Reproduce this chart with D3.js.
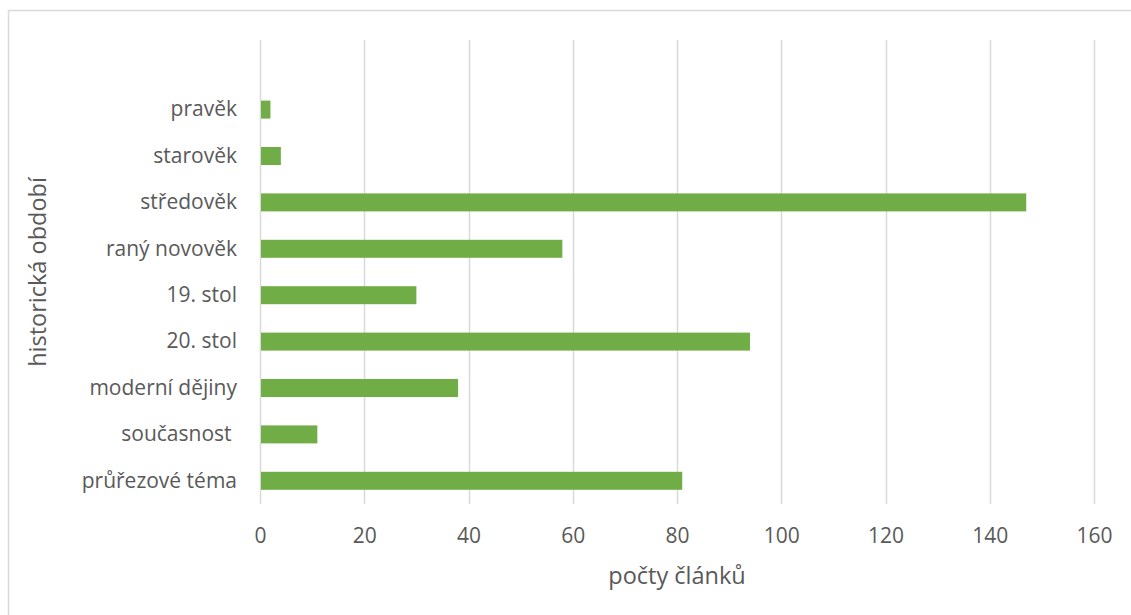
<!DOCTYPE html>
<html>
<head>
<meta charset="utf-8">
<script src="https://cdn.jsdelivr.net/npm/d3@7"></script>
<style>
  html, body { margin: 0; padding: 0; background: #fff; }
  svg { display: block; font-family: "Open Sans", "Noto Sans", sans-serif; }
</style>
</head>
<body>
<svg id="chart" width="1131" height="615"></svg>
<script>
const categories = ["pravěk", "starověk", "středověk", "raný novověk", "19. stol", "20. stol", "moderní dějiny", "současnost ", "průřezové téma"];
const values = [2, 4, 147, 58, 30, 94, 38, 11, 81];
const xTicks = [0, 20, 40, 60, 80, 100, 120, 140, 160];
const xTitle = "počty článků";
const yTitle = "historická období";

const svg = d3.select("#chart");
const textColor = "#595959";
const gridColor = "#D9D9D9";

// chart border
svg.append("rect")
  .attr("x", 8.5).attr("y", 10.5)
  .attr("width", 1140).attr("height", 620)
  .attr("fill", "none").attr("stroke", gridColor).attr("stroke-width", 1.5);

const plotTop = 40, plotBottom = 504, plotLeft = 260, plotRight = 1094;
const step = (plotBottom - plotTop) / (categories.length + 1);

const x = d3.scaleLinear().domain([0, 160]).range([plotLeft, plotRight]);
const y = d3.scaleBand().domain(categories)
  .range([plotTop + step, plotBottom])
  .paddingInner(0.612).paddingOuter(0.306);

// gridlines
svg.append("g")
  .selectAll("line").data(xTicks).join("line")
  .attr("x1", d => Math.round(x(d)) + 0.5).attr("x2", d => Math.round(x(d)) + 0.5)
  .attr("y1", plotTop).attr("y2", plotBottom)
  .attr("stroke", gridColor).attr("stroke-width", 1.5);

// bars
svg.append("g")
  .selectAll("rect").data(categories).join("rect")
  .attr("x", x(0) + 1)
  .attr("y", d => y(d))
  .attr("width", (d, i) => x(values[i]) - x(0) - 1)
  .attr("height", y.bandwidth())
  .attr("fill", "#70AD47");

// x axis labels
const xAxis = d3.axisBottom(x).tickValues(xTicks).tickSize(0).tickPadding(0).tickFormat(d3.format("d"));
const gx = svg.append("g").attr("transform", `translate(0, ${plotBottom + 39})`).call(xAxis);
gx.select(".domain").remove();
gx.selectAll("text").attr("fill", textColor).attr("font-size", 21)
  .attr("font-family", "\"Open Sans\", sans-serif").attr("dy", null);

// y axis labels
const yAxis = d3.axisLeft(y).tickSize(0).tickPadding(23);
const gy = svg.append("g").attr("transform", `translate(${plotLeft}, 0)`).call(yAxis);
gy.select(".domain").remove();
gy.selectAll("text").attr("fill", textColor).attr("font-size", 21)
  .attr("font-family", "\"Open Sans\", sans-serif").style("white-space", "pre");

// axis titles
svg.append("text")
  .attr("x", (plotLeft + plotRight) / 2).attr("y", 584)
  .attr("text-anchor", "middle").attr("fill", textColor)
  .attr("font-size", 23.5).text(xTitle);

svg.append("text")
  .attr("transform", `translate(46, ${(plotTop + plotBottom) / 2}) rotate(-90)`)
  .attr("text-anchor", "middle").attr("fill", textColor)
  .attr("font-size", 23.5).text(yTitle);
</script>
</body>
</html>
